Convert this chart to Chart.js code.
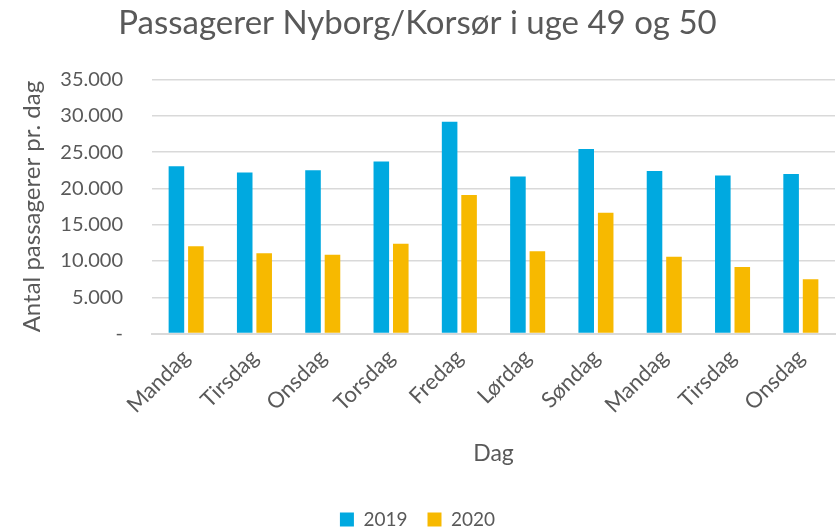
<!DOCTYPE html>
<html>
<head>
<meta charset="utf-8">
<script src="https://cdn.jsdelivr.net/npm/chart.js@4.4.0/dist/chart.umd.min.js"></script>
<style>
  html, body { margin: 0; padding: 0; background: #fff; }
  #wrap { width: 836px; height: 529px; }
</style>
</head>
<body>
<div id="wrap"><canvas id="chart"></canvas></div>
<script>
// dagene i uge 49 og 50
var days = ['Mandag', 'Tirsdag', 'Onsdag', 'Torsdag', 'Fredag', 'Lørdag', 'Søndag', 'Mandag', 'Tirsdag', 'Onsdag'];
var pax2019 = [23050, 22200, 22500, 23700, 29200, 21650, 25430, 22400, 21800, 22000];
var pax2020 = [12040, 11060, 10870, 12370, 19100, 11340, 16660, 10590, 9190, 7470];
var yTicks = [0, 5000, 10000, 15000, 20000, 25000, 30000, 35000];

var grey = '#595959';
var font = 'Lato, "Open Sans", sans-serif';

function fmt(v) {
	if (v === 0) return '-';
	return v.toString().replace(/\B(?=(\d{3})+(?!\d))/g, '.');
}

var ctx = document.getElementById('chart').getContext('2d');
new Chart(ctx, {
	type: 'bar',
	data: {
		labels: days,
		datasets: [{
			label: '2019',
			data: pax2019,
			backgroundColor: '#00a9e0'
		}, {
			label: '2020',
			data: pax2020,
			backgroundColor: '#f7b900'
		}]
	},
	options: {
		responsive: true,
		maintainAspectRatio: false,
		animation: false,
		layout: { padding: { left: 0, right: 1, top: 4, bottom: -10 } },
		datasets: {
			bar: { categoryPercentage: 0.57, barPercentage: 0.8 }
		},
		plugins: {
			title: {
				display: true,
				text: 'Passagerer Nyborg/Korsør i uge 49 og 50',
				color: grey,
				font: { family: font, size: 33, weight: 'normal' },
				padding: { top: 0, bottom: 36 }
			},
			legend: {
				position: 'bottom',
				labels: {
					color: grey,
					font: { family: font, size: 19 },
					boxWidth: 14,
					boxHeight: 14,
					padding: 20
				}
			},
			tooltip: { enabled: false }
		},
		scales: {
			x: {
				grid: { display: false },
				border: { color: '#d9d9d9', width: 2 },
				ticks: {
					color: grey,
					font: { family: font, size: 22 },
					minRotation: 45,
					maxRotation: 45
				},
				title: {
					display: true,
					text: 'Dag',
					color: grey,
					font: { family: font, size: 23 },
					padding: { top: 18, bottom: 23 }
				}
			},
			y: {
				min: 0,
				max: 35000,
				afterBuildTicks: function(axis) {
					axis.ticks = yTicks.map(function(v) { return { value: v }; });
				},
				// fast bredde så plotområdet starter samme sted som i Excel
				afterFit: function(axis) {
					axis.width = 152;
				},
				grid: { color: '#d9d9d9', lineWidth: 1.5, drawTicks: false },
				border: { display: false },
				ticks: {
					color: grey,
					font: { family: font, size: 20 },
					padding: 29,
					callback: function(v) { return fmt(v); }
				},
				title: {
					display: true,
					text: 'Antal passagerer pr. dag',
					color: grey,
					font: { family: font, size: 24 },
					padding: { top: 18, bottom: 10 }
				}
			}
		}
	}
});
</script>
</body>
</html>
